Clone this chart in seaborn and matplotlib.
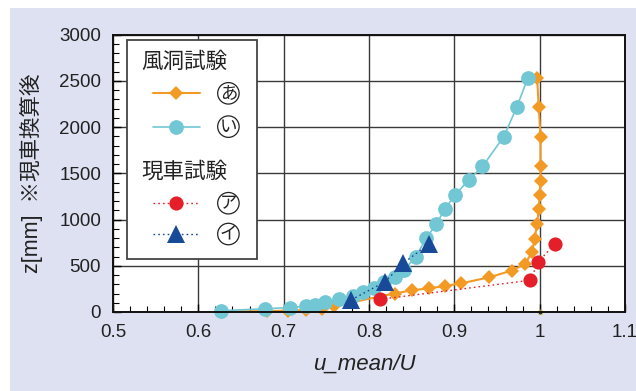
import matplotlib
matplotlib.use("Agg")
import matplotlib.pyplot as plt
import seaborn as sns
import numpy as np
import pandas as pd
from matplotlib.patches import Rectangle
from matplotlib.lines import Line2D
from matplotlib.ticker import MultipleLocator

# ---------------- data ----------------
# 風洞試験 あ (orange diamonds)
a_u = [0.627, 0.681, 0.705, 0.726, 0.745, 0.759, 0.830, 0.850, 0.870, 0.889, 0.908,
       0.941, 0.967, 0.983, 0.991, 0.994, 0.997, 0.999, 1.000, 1.001, 1.001, 1.001,
       0.999, 0.997]
a_z = [5, 10, 15, 22, 30, 65, 200, 235, 255, 281, 310,
       375, 447, 519, 649, 786, 952, 1118, 1263, 1421, 1573, 1897,
       2211, 2525]
# 風洞試験 い (cyan circles)
i_u = [0.627, 0.678, 0.707, 0.726, 0.737, 0.748, 0.765, 0.781, 0.793, 0.806, 0.818,
       0.830, 0.841, 0.855, 0.867, 0.879, 0.889, 0.901, 0.917, 0.933, 0.958, 0.973, 0.986]
i_z = [14, 35, 48, 62, 78, 105, 140, 172, 212, 262, 321,
       383, 455, 600, 797, 952, 1115, 1266, 1429, 1573, 1897, 2211, 2525]
# 現車試験 ア (red circles)
ka_u = [0.813, 0.989, 0.998, 1.018]
ka_z = [137, 343, 538, 739]
# 現車試験 イ (blue triangles)
ki_u = [0.779, 0.819, 0.840, 0.870]
ki_z = [130, 328, 527, 733]
# small reference point
ref_u = [1.0]
ref_z = [0]

x_ticks = [0.5, 0.6, 0.7, 0.8, 0.9, 1.0, 1.1]
x_tick_labels = ["0.5", "0.6", "0.7", "0.8", "0.9", "1", "1.1"]
y_ticks = [0, 500, 1000, 1500, 2000, 2500, 3000]
y_tick_labels = ["0", "500", "1000", "1500", "2000", "2500", "3000"]

header1 = "風洞試験"
header2 = "現車試験"
labels = ["あ", "い", "ア", "イ"]

c_orange = "#F29A24"
c_cyan = "#72C7D4"
c_red = "#E51F2A"
c_blue = "#184A98"
bg = "#DDE1F1"

# ---------------- style ----------------
sns.set_style("white")
plt.rcParams["font.family"] = ["Liberation Sans", "Noto Sans CJK JP", "DejaVu Sans"]

fig = plt.figure(figsize=(6.36, 3.91), dpi=100)
fig.patch.set_facecolor("white")
fig.patches.append(Rectangle((10 / 636, 0), 1 - 10 / 636, (391 - 8) / 391,
                             transform=fig.transFigure, facecolor=bg,
                             edgecolor="none", zorder=-10))

ax = fig.add_axes([113 / 636, (391 - 312) / 391, 512 / 636, 277.5 / 391])
ax.set_facecolor("white")

dfa = pd.DataFrame({"u": a_u, "z": a_z})
dfi = pd.DataFrame({"u": i_u, "z": i_z})
dfka = pd.DataFrame({"u": ka_u, "z": ka_z})
dfki = pd.DataFrame({"u": ki_u, "z": ki_z})

ms_d, ms_c, ms_r, ms_t = 7.6, 10.6, 10.2, 12.5

sns.lineplot(data=dfa, x="u", y="z", sort=False, estimator=None, ax=ax,
             color=c_orange, lw=1.5, marker="D", ms=ms_d, mec=c_orange, mew=0,
             clip_on=False, zorder=3)
sns.lineplot(data=dfi, x="u", y="z", sort=False, estimator=None, ax=ax,
             color=c_cyan, lw=1.2, marker="o", ms=ms_c, mec=c_cyan, mew=0,
             clip_on=False, zorder=4)
sns.lineplot(data=dfka, x="u", y="z", sort=False, estimator=None, ax=ax,
             color=c_red, lw=1.0, ls=(0, (1.2, 2.2)), marker="o", ms=ms_r,
             mec=c_red, mew=0, clip_on=False, zorder=5)
sns.lineplot(data=dfki, x="u", y="z", sort=False, estimator=None, ax=ax,
             color=c_blue, lw=1.0, ls=(0, (1.2, 2.2)), marker="^", ms=ms_t,
             mec=c_blue, mew=0, clip_on=False, zorder=6)
ax.plot(ref_u, ref_z, ls="none", marker="o", ms=3.5, color="#1B2F6B",
        mec="#E8D24A", mew=0.6, clip_on=False, zorder=7)

ax.set_xlim(0.5, 1.1)
ax.set_ylim(0, 3000)
ax.set_xticks(x_ticks)
ax.set_xticklabels(x_tick_labels)
ax.set_yticks(y_ticks)
ax.set_yticklabels(y_tick_labels)
ax.xaxis.set_minor_locator(MultipleLocator(0.02))
ax.yaxis.set_minor_locator(MultipleLocator(100))
ax.tick_params(which="both", direction="in", left=True, bottom=True,
               top=False, right=False, colors="black", labelsize=13.5,
               labelcolor="#222222")
ax.tick_params(which="major", length=6, width=1, pad=8.5)
ax.tick_params(which="minor", length=4.5, width=0.8)
ax.grid(True, which="major", color="#3a3a3a", lw=1.0)
ax.set_axisbelow(True)
for s in ax.spines.values():
    s.set_color("#111111")
    s.set_linewidth(1.4)
    s.set_zorder(8)

ax.set_xlabel("u_mean/U", fontsize=16, style="italic", color="#222222")
ax.xaxis.set_label_coords(0.49, -0.152)
ax.set_ylabel("z[mm]  ※現車換算後", fontsize=15.5, color="#222222")
ax.yaxis.set_label_coords(-0.137, 0.5)

# ---------------- legend (drawn in axes coordinates) ----------------
T = ax.transAxes
ax.add_patch(Rectangle((0.0273, 0.190), 0.2540, 0.790, transform=T,
                       facecolor="white", edgecolor="#444444", lw=1.3,
                       zorder=9, clip_on=False))
ax.text(0.056, 0.902, header1, transform=T, fontsize=15.5, ha="left",
        va="center", color="#222222", zorder=10, family=["Noto Sans CJK JP"])
ax.text(0.056, 0.506, header2, transform=T, fontsize=15.5, ha="left",
        va="center", color="#222222", zorder=10, family=["Noto Sans CJK JP"])

rows = [(0.788, c_orange, "-", 1.5, "D", ms_d),
        (0.668, c_cyan, "-", 1.2, "o", ms_c),
        (0.392, c_red, (0, (1.2, 2.2)), 1.0, "o", ms_r),
        (0.281, c_blue, (0, (1.2, 2.2)), 1.0, "^", ms_t)]
for (yy, col, ls, lw, mk, ms), lab in zip(rows, labels):
    ax.add_line(Line2D([0.0787, 0.1705], [yy, yy], transform=T, color=col,
                       ls=ls, lw=lw, zorder=10, clip_on=False))
    ax.add_line(Line2D([0.123], [yy], transform=T, color=col, ls="none",
                       marker=mk, ms=ms, mew=0, zorder=11, clip_on=False))
    ax.text(0.2254, yy, lab, transform=T, fontsize=12.5, ha="center",
            va="center", color="#222222", zorder=11,
            family=["Noto Sans CJK JP"],
            bbox=dict(boxstyle="circle,pad=0.1", fc="white", ec="#222222",
                      lw=0.9))

fig.savefig("out.png", dpi=100, facecolor=fig.get_facecolor())
